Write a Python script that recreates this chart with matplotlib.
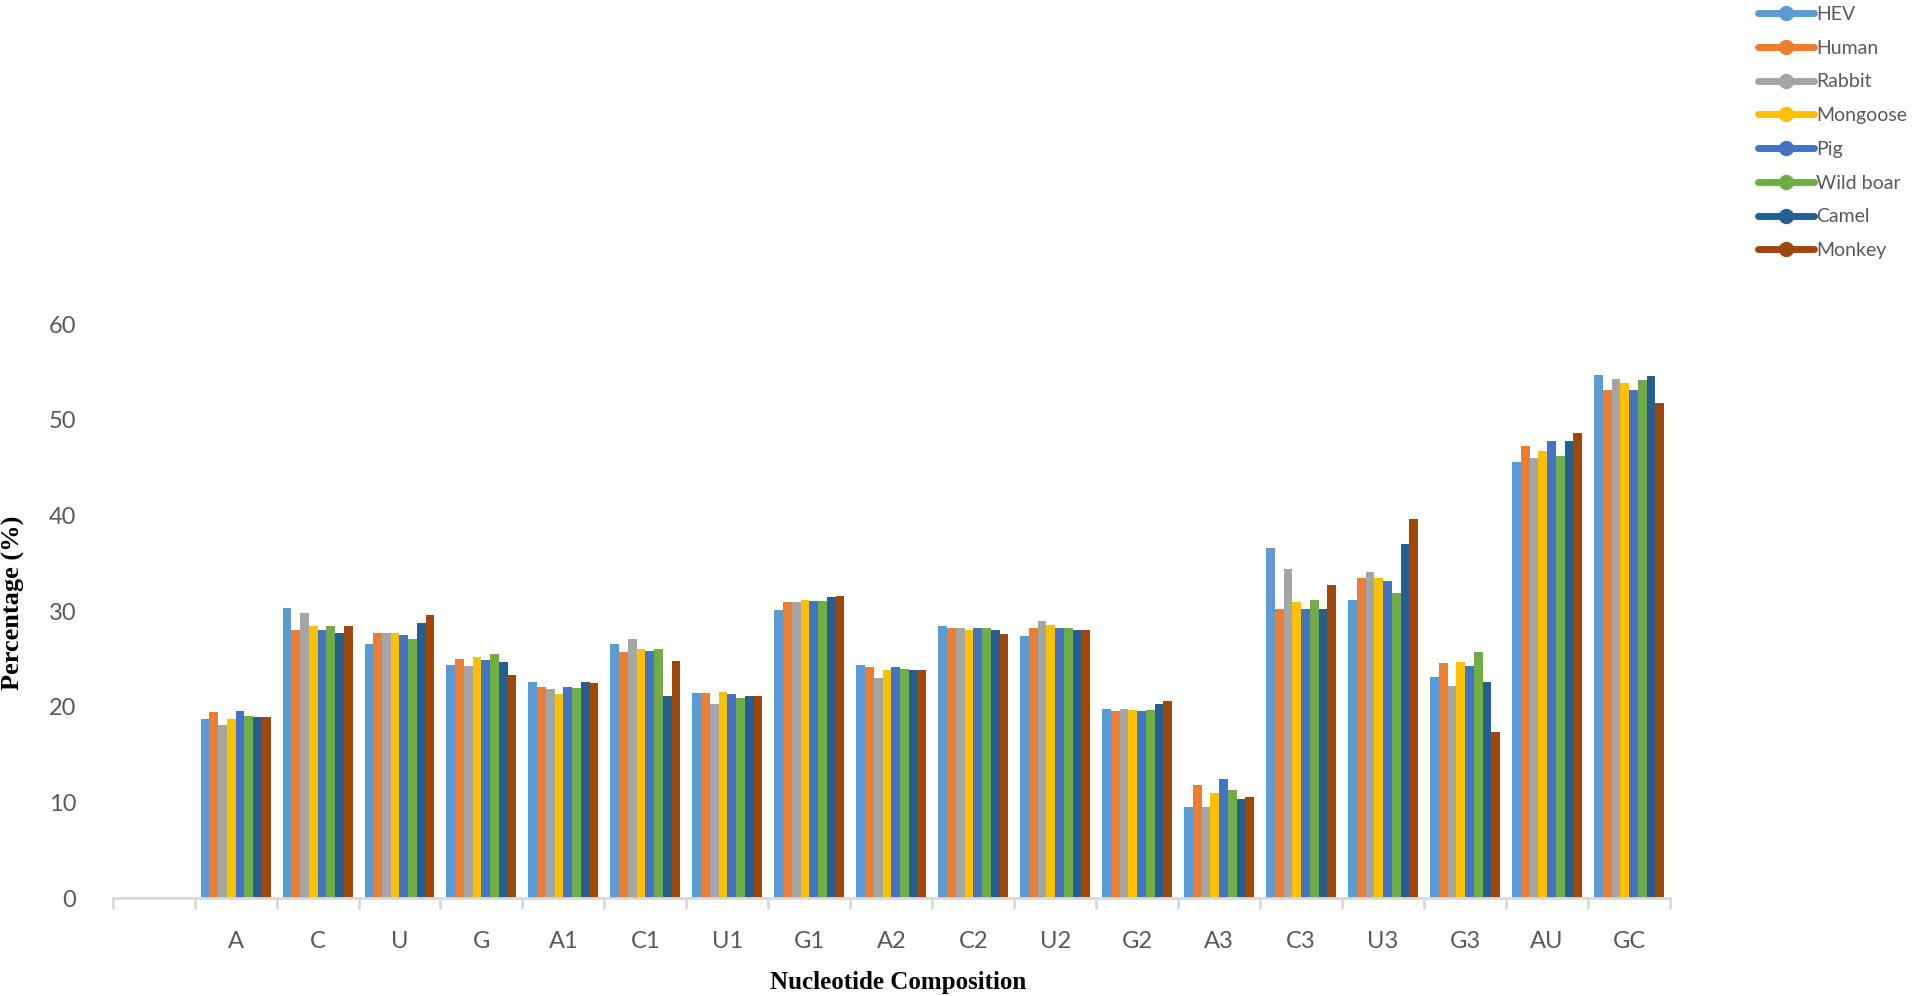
import numpy as np
import matplotlib
matplotlib.use("Agg")
import matplotlib.pyplot as plt
from matplotlib.lines import Line2D

categories = ["A", "C", "U", "G", "A1", "C1", "U1", "G1", "A2", "C2", "U2", "G2",
              "A3", "C3", "U3", "G3", "AU", "GC"]
series_names = ["HEV", "Human", "Rabbit", "Mongoose", "Pig", "Wild boar", "Camel", "Monkey"]
colors = ["#5B9BD5", "#ED7D31", "#A5A5A5", "#FFC000", "#4472C4", "#70AD47", "#255E91", "#9E480E"]

hev      = [18.7, 30.3, 26.6, 24.4, 22.6, 26.6, 21.4, 30.1, 24.4, 28.4, 27.4, 19.8, 9.5, 36.6, 31.1, 23.1, 45.6, 54.7]
human    = [19.4, 28.0, 27.7, 25.0, 22.1, 25.7, 21.4, 30.9, 24.1, 28.2, 28.2, 19.5, 11.8, 30.2, 33.4, 24.6, 47.2, 53.1]
rabbit   = [18.1, 29.8, 27.7, 24.2, 21.8, 27.1, 20.3, 30.9, 23.0, 28.2, 29.0, 19.8, 9.5, 34.4, 34.1, 22.2, 46.0, 54.2]
mongoose = [18.7, 28.4, 27.7, 25.2, 21.3, 26.0, 21.5, 31.2, 23.8, 28.0, 28.5, 19.7, 11.0, 30.9, 33.4, 24.7, 46.7, 53.8]
pig      = [19.5, 28.0, 27.5, 24.9, 22.1, 25.8, 21.3, 31.0, 24.1, 28.2, 28.2, 19.5, 12.4, 30.2, 33.1, 24.2, 47.8, 53.1]
wildboar = [19.0, 28.4, 27.1, 25.5, 22.0, 26.0, 20.9, 31.0, 23.9, 28.2, 28.2, 19.7, 11.3, 31.2, 31.9, 25.7, 46.2, 54.1]
camel    = [18.9, 27.7, 28.7, 24.7, 22.6, 21.1, 21.1, 31.5, 23.8, 28.0, 28.0, 20.3, 10.3, 30.2, 37.0, 22.6, 47.8, 54.6]
monkey   = [18.9, 28.4, 29.6, 23.3, 22.5, 24.8, 21.1, 31.6, 23.8, 27.6, 28.0, 20.6, 10.6, 32.7, 39.6, 17.3, 48.6, 51.7]
all_series = [hev, human, rabbit, mongoose, pig, wildboar, camel, monkey]

yticks = [0, 10, 20, 30, 40, 50, 60]

W, H = 1932, 996
fig = plt.figure(figsize=(W / 100, H / 100), dpi=100)
left, right = 112.6 / W, 1670 / W
bottom = 1 - 898 / H
top = 1 - 324 / H
ax = fig.add_axes([left, bottom, right - left, top - bottom])

tick_font = "Lato"
grey = "#595959"

n = len(all_series)
group_w = 70 / 82.0
bw = group_w / n
x = np.arange(1, len(categories) + 1)
for i, (vals, c) in enumerate(zip(all_series, colors)):
    ax.bar(x - group_w / 2 + bw * (i + 0.5), vals, width=bw, color=c, linewidth=0)

ax.set_xlim(-0.5, len(categories) + 0.5)
ax.set_ylim(0, 60)
for s in ["top", "right", "left"]:
    ax.spines[s].set_visible(False)
ax.spines["bottom"].set_color("#D9D9D9")
ax.spines["bottom"].set_linewidth(2)

ax.set_xticks(np.arange(-0.5, len(categories) + 1, 1.0))
ax.set_xticklabels([])
ax.tick_params(axis="x", which="major", length=8, width=2, color="#D9D9D9", direction="out")
ax.set_xticks(x, minor=True)
ax.set_xticklabels(categories, minor=True, fontsize=17, color=grey, fontfamily=tick_font)
ax.tick_params(axis="x", which="minor", length=0, pad=24)

ax.set_yticks(yticks)
ax.set_yticklabels([str(v) for v in yticks], fontsize=17, color=grey, fontfamily=tick_font)
ax.tick_params(axis="y", length=0, pad=26)

fig.text(898 / W, 1 - 982 / H, "Nucleotide Composition", ha="center", va="center",
         fontsize=18, fontweight="bold", fontfamily="Liberation Serif")
fig.text(13 / W, 1 - 603 / H, "Percentage (%)", ha="center", va="center", rotation=90,
         fontsize=19, fontweight="bold", fontfamily="Liberation Serif")

handles = [Line2D([0], [0], color=c, lw=5, marker="o", markersize=10, solid_capstyle="round")
           for c in colors]
leg = fig.legend(handles, series_names, loc="upper left", bbox_to_anchor=(1758 / W, 1 - 6 / H),
                 frameon=False, handlelength=2.9, handletextpad=0.1,
                 labelspacing=0.86, borderpad=0, borderaxespad=0,
                 prop={"family": tick_font, "size": 14})
for t in leg.get_texts():
    t.set_color(grey)

fig.savefig("out.png", dpi=100)
